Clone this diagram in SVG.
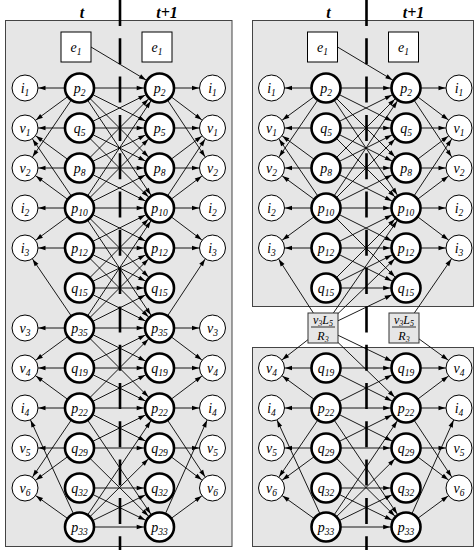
<svg xmlns="http://www.w3.org/2000/svg" width="475" height="550" viewBox="0 0 475 550">
<defs>
<style>
.pan{fill:#e6e6e6;stroke:#444;stroke-width:1}
.e line{stroke:#000;stroke-width:0.9;fill:none}
.s{marker-end:url(#ms)}
.b{marker-end:url(#mb)}
.dash{stroke:#000;stroke-width:2.6;stroke-dasharray:26 12.3}
.m{fill:#fff;stroke:#000;stroke-width:1}
.p{fill:#fff;stroke:#000;stroke-width:2.6}
.bx{fill:#fff;stroke:#000;stroke-width:1}
.fx{fill:#e6e6e6;stroke:#333;stroke-width:1}
text{font-family:"Liberation Serif",serif;font-style:italic;font-size:14px;text-anchor:middle;fill:#000}
.u{font-size:9.5px}
.h{font-weight:bold;font-size:16px}
.f{font-size:12px}
.fu{font-size:8px}
</style>
<marker id="ms" markerUnits="userSpaceOnUse" markerWidth="8" markerHeight="6" viewBox="0 0 8 6" refX="20.5" refY="3" orient="auto" overflow="visible"><path d="M0,0.7 L7,3 L0,5.3 z" fill="#000"/></marker>
<marker id="mb" markerUnits="userSpaceOnUse" markerWidth="8" markerHeight="6" viewBox="0 0 8 6" refX="22.8" refY="3" orient="auto" overflow="visible"><path d="M0,0.7 L7,3 L0,5.3 z" fill="#000"/></marker>
</defs>
<rect width="475" height="550" fill="#fff"/>
<g id="panels">
<rect class="pan" x="5.5" y="20.5" width="226.5" height="526"/>
<rect class="pan" x="252.5" y="20.5" width="221" height="286"/>
<rect class="pan" x="252.5" y="347.5" width="221" height="199"/>
</g>
<g id="connectors" class="e">
<g class="b">
<line x1="91" y1="47" x2="159.5" y2="88"/>
<line x1="337.5" y1="47" x2="406" y2="88"/>
</g>
<g class="s">
<!-- left panel, t -->
<line x1="79.5" y1="88" x2="25" y2="88"/>
<line x1="79.5" y1="88" x2="25" y2="128"/>
<line x1="79.5" y1="88" x2="25" y2="168"/>
<line x1="79.5" y1="128" x2="25" y2="128"/>
<line x1="79.5" y1="168" x2="25" y2="128"/>
<line x1="79.5" y1="168" x2="25" y2="168"/>
<line x1="79.5" y1="208" x2="25" y2="128"/>
<line x1="79.5" y1="208" x2="25" y2="168"/>
<line x1="79.5" y1="208" x2="25" y2="208"/>
<line x1="79.5" y1="208" x2="25" y2="248"/>
<line x1="79.5" y1="248" x2="25" y2="248"/>
<line x1="79.5" y1="328" x2="25" y2="248"/>
<line x1="79.5" y1="328" x2="25" y2="328"/>
<line x1="79.5" y1="328" x2="25" y2="368"/>
<line x1="79.5" y1="368" x2="25" y2="368"/>
<line x1="79.5" y1="408" x2="25" y2="368"/>
<line x1="79.5" y1="408" x2="25" y2="408"/>
<line x1="79.5" y1="408" x2="25" y2="488"/>
<line x1="79.5" y1="527" x2="25" y2="408"/>
<line x1="79.5" y1="448" x2="25" y2="448"/>
<line x1="79.5" y1="448" x2="25" y2="488"/>
<line x1="79.5" y1="527" x2="25" y2="488"/>
<!-- left panel, t+1 -->
<line x1="159.5" y1="88" x2="212.5" y2="88"/>
<line x1="159.5" y1="88" x2="212.5" y2="128"/>
<line x1="159.5" y1="88" x2="212.5" y2="168"/>
<line x1="159.5" y1="128" x2="212.5" y2="128"/>
<line x1="159.5" y1="168" x2="212.5" y2="128"/>
<line x1="159.5" y1="168" x2="212.5" y2="168"/>
<line x1="159.5" y1="208" x2="212.5" y2="128"/>
<line x1="159.5" y1="208" x2="212.5" y2="168"/>
<line x1="159.5" y1="208" x2="212.5" y2="208"/>
<line x1="159.5" y1="208" x2="212.5" y2="248"/>
<line x1="159.5" y1="248" x2="212.5" y2="248"/>
<line x1="159.5" y1="328" x2="212.5" y2="248"/>
<line x1="159.5" y1="328" x2="212.5" y2="328"/>
<line x1="159.5" y1="328" x2="212.5" y2="368"/>
<line x1="159.5" y1="368" x2="212.5" y2="368"/>
<line x1="159.5" y1="408" x2="212.5" y2="368"/>
<line x1="159.5" y1="408" x2="212.5" y2="408"/>
<line x1="159.5" y1="408" x2="212.5" y2="488"/>
<line x1="159.5" y1="527" x2="212.5" y2="408"/>
<line x1="159.5" y1="448" x2="212.5" y2="448"/>
<line x1="159.5" y1="448" x2="212.5" y2="488"/>
<line x1="159.5" y1="527" x2="212.5" y2="488"/>
<!-- right panel, t -->
<line x1="326" y1="88" x2="271.5" y2="88"/>
<line x1="326" y1="88" x2="271.5" y2="128"/>
<line x1="326" y1="88" x2="271.5" y2="168"/>
<line x1="326" y1="128" x2="271.5" y2="128"/>
<line x1="326" y1="168" x2="271.5" y2="128"/>
<line x1="326" y1="168" x2="271.5" y2="168"/>
<line x1="326" y1="208" x2="271.5" y2="128"/>
<line x1="326" y1="208" x2="271.5" y2="168"/>
<line x1="326" y1="208" x2="271.5" y2="208"/>
<line x1="326" y1="208" x2="271.5" y2="248"/>
<line x1="326" y1="248" x2="271.5" y2="248"/>
<line x1="323" y1="328" x2="271.5" y2="248"/>
<line x1="323" y1="328" x2="271.5" y2="368"/>
<line x1="326" y1="368" x2="271.5" y2="368"/>
<line x1="326" y1="408" x2="271.5" y2="368"/>
<line x1="326" y1="408" x2="271.5" y2="408"/>
<line x1="326" y1="408" x2="271.5" y2="488"/>
<line x1="326" y1="527" x2="271.5" y2="408"/>
<line x1="326" y1="448" x2="271.5" y2="448"/>
<line x1="326" y1="448" x2="271.5" y2="488"/>
<line x1="326" y1="527" x2="271.5" y2="488"/>
<!-- right panel, t+1 -->
<line x1="406" y1="88" x2="459" y2="88"/>
<line x1="406" y1="88" x2="459" y2="128"/>
<line x1="406" y1="88" x2="459" y2="168"/>
<line x1="406" y1="128" x2="459" y2="128"/>
<line x1="406" y1="168" x2="459" y2="128"/>
<line x1="406" y1="168" x2="459" y2="168"/>
<line x1="406" y1="208" x2="459" y2="128"/>
<line x1="406" y1="208" x2="459" y2="168"/>
<line x1="406" y1="208" x2="459" y2="208"/>
<line x1="406" y1="208" x2="459" y2="248"/>
<line x1="406" y1="248" x2="459" y2="248"/>
<line x1="404" y1="328" x2="459" y2="248"/>
<line x1="404" y1="328" x2="459" y2="368"/>
<line x1="406" y1="368" x2="459" y2="368"/>
<line x1="406" y1="408" x2="459" y2="368"/>
<line x1="406" y1="408" x2="459" y2="408"/>
<line x1="406" y1="408" x2="459" y2="488"/>
<line x1="406" y1="527" x2="459" y2="408"/>
<line x1="406" y1="448" x2="459" y2="448"/>
<line x1="406" y1="448" x2="459" y2="488"/>
<line x1="406" y1="527" x2="459" y2="488"/>
</g>
<g class="b">
<!-- left panel cross-time -->
<line x1="79.5" y1="88" x2="159.5" y2="88"/>
<line x1="79.5" y1="128" x2="159.5" y2="128"/>
<line x1="79.5" y1="168" x2="159.5" y2="168"/>
<line x1="79.5" y1="208" x2="159.5" y2="208"/>
<line x1="79.5" y1="248" x2="159.5" y2="248"/>
<line x1="79.5" y1="288" x2="159.5" y2="288"/>
<line x1="79.5" y1="328" x2="159.5" y2="328"/>
<line x1="79.5" y1="368" x2="159.5" y2="368"/>
<line x1="79.5" y1="408" x2="159.5" y2="408"/>
<line x1="79.5" y1="448" x2="159.5" y2="448"/>
<line x1="79.5" y1="488" x2="159.5" y2="488"/>
<line x1="79.5" y1="527" x2="159.5" y2="527"/>
<line x1="79.5" y1="88" x2="159.5" y2="128"/>
<line x1="79.5" y1="88" x2="159.5" y2="168"/>
<line x1="79.5" y1="88" x2="159.5" y2="208"/>
<line x1="79.5" y1="128" x2="159.5" y2="88"/>
<line x1="79.5" y1="128" x2="159.5" y2="168"/>
<line x1="79.5" y1="128" x2="159.5" y2="208"/>
<line x1="79.5" y1="168" x2="159.5" y2="88"/>
<line x1="79.5" y1="168" x2="159.5" y2="128"/>
<line x1="79.5" y1="168" x2="159.5" y2="208"/>
<line x1="79.5" y1="208" x2="159.5" y2="88"/>
<line x1="79.5" y1="208" x2="159.5" y2="128"/>
<line x1="79.5" y1="208" x2="159.5" y2="168"/>
<line x1="79.5" y1="208" x2="159.5" y2="248"/>
<line x1="79.5" y1="208" x2="159.5" y2="288"/>
<line x1="79.5" y1="208" x2="159.5" y2="328"/>
<line x1="79.5" y1="248" x2="159.5" y2="208"/>
<line x1="79.5" y1="248" x2="159.5" y2="288"/>
<line x1="79.5" y1="248" x2="159.5" y2="328"/>
<line x1="79.5" y1="288" x2="159.5" y2="208"/>
<line x1="79.5" y1="288" x2="159.5" y2="248"/>
<line x1="79.5" y1="288" x2="159.5" y2="328"/>
<line x1="79.5" y1="328" x2="159.5" y2="208"/>
<line x1="79.5" y1="328" x2="159.5" y2="248"/>
<line x1="79.5" y1="328" x2="159.5" y2="288"/>
<line x1="79.5" y1="328" x2="159.5" y2="368"/>
<line x1="79.5" y1="328" x2="159.5" y2="408"/>
<line x1="79.5" y1="368" x2="159.5" y2="328"/>
<line x1="79.5" y1="368" x2="159.5" y2="408"/>
<line x1="79.5" y1="408" x2="159.5" y2="328"/>
<line x1="79.5" y1="408" x2="159.5" y2="368"/>
<line x1="79.5" y1="408" x2="159.5" y2="448"/>
<line x1="79.5" y1="408" x2="159.5" y2="527"/>
<line x1="79.5" y1="448" x2="159.5" y2="408"/>
<line x1="79.5" y1="448" x2="159.5" y2="527"/>
<line x1="79.5" y1="527" x2="159.5" y2="408"/>
<line x1="79.5" y1="527" x2="159.5" y2="448"/>
<line x1="79.5" y1="488" x2="159.5" y2="527"/>
<line x1="79.5" y1="527" x2="159.5" y2="488"/>
<!-- right panel cross-time -->
<line x1="326" y1="88" x2="406" y2="88"/>
<line x1="326" y1="128" x2="406" y2="128"/>
<line x1="326" y1="168" x2="406" y2="168"/>
<line x1="326" y1="208" x2="406" y2="208"/>
<line x1="326" y1="248" x2="406" y2="248"/>
<line x1="326" y1="288" x2="406" y2="288"/>
<line x1="326" y1="368" x2="406" y2="368"/>
<line x1="326" y1="408" x2="406" y2="408"/>
<line x1="326" y1="448" x2="406" y2="448"/>
<line x1="326" y1="488" x2="406" y2="488"/>
<line x1="326" y1="527" x2="406" y2="527"/>
<line x1="326" y1="88" x2="406" y2="128"/>
<line x1="326" y1="88" x2="406" y2="168"/>
<line x1="326" y1="88" x2="406" y2="208"/>
<line x1="326" y1="128" x2="406" y2="88"/>
<line x1="326" y1="128" x2="406" y2="168"/>
<line x1="326" y1="128" x2="406" y2="208"/>
<line x1="326" y1="168" x2="406" y2="88"/>
<line x1="326" y1="168" x2="406" y2="128"/>
<line x1="326" y1="168" x2="406" y2="208"/>
<line x1="326" y1="208" x2="406" y2="88"/>
<line x1="326" y1="208" x2="406" y2="128"/>
<line x1="326" y1="208" x2="406" y2="168"/>
<line x1="326" y1="208" x2="406" y2="248"/>
<line x1="326" y1="208" x2="406" y2="288"/>
<line x1="326" y1="248" x2="406" y2="208"/>
<line x1="326" y1="248" x2="406" y2="288"/>
<line x1="326" y1="288" x2="406" y2="208"/>
<line x1="326" y1="288" x2="406" y2="248"/>
<line x1="323" y1="328" x2="406" y2="208"/>
<line x1="323" y1="328" x2="406" y2="248"/>
<line x1="323" y1="328" x2="406" y2="288"/>
<line x1="323" y1="328" x2="406" y2="368"/>
<line x1="323" y1="328" x2="406" y2="408"/>
<line x1="326" y1="368" x2="406" y2="408"/>
<line x1="326" y1="408" x2="406" y2="368"/>
<line x1="326" y1="408" x2="406" y2="448"/>
<line x1="326" y1="408" x2="406" y2="527"/>
<line x1="326" y1="448" x2="406" y2="408"/>
<line x1="326" y1="448" x2="406" y2="527"/>
<line x1="326" y1="527" x2="406" y2="408"/>
<line x1="326" y1="527" x2="406" y2="448"/>
<line x1="326" y1="488" x2="406" y2="527"/>
<line x1="326" y1="527" x2="406" y2="488"/>
</g>
</g>
<g id="time-dividers">
<line class="dash" x1="120" y1="0" x2="120" y2="550"/>
<line class="dash" x1="366.5" y1="0" x2="366.5" y2="550"/>
</g>
<g id="headers">
<text class="h" x="82" y="18">t</text>
<text class="h" x="167" y="18">t+1</text>
<text class="h" x="328.5" y="18">t</text>
<text class="h" x="413.5" y="18">t+1</text>
</g>
<!-- LEFT PANEL NODES -->
<g id="L-e1-t"><rect class="bx" x="61" y="32" width="30" height="30"/><text x="76" y="51.5">e<tspan class="u" dy="3">1</tspan></text></g>
<g id="L-e1-t1"><rect class="bx" x="142" y="32" width="30" height="30"/><text x="157" y="51.5">e<tspan class="u" dy="3">1</tspan></text></g>
<g id="L-p2-t"><circle class="p" cx="79.5" cy="88" r="14.5"/><text x="79.5" y="92.5">p<tspan class="u" dy="3">2</tspan></text></g>
<g id="L-q5-t"><circle class="p" cx="79.5" cy="128" r="14.5"/><text x="79.5" y="132.5">q<tspan class="u" dy="3">5</tspan></text></g>
<g id="L-p8-t"><circle class="p" cx="79.5" cy="168" r="14.5"/><text x="79.5" y="172.5">p<tspan class="u" dy="3">8</tspan></text></g>
<g id="L-p10-t"><circle class="p" cx="79.5" cy="208" r="14.5"/><text x="79.5" y="212.5">p<tspan class="u" dy="3">10</tspan></text></g>
<g id="L-p12-t"><circle class="p" cx="79.5" cy="248" r="14.5"/><text x="79.5" y="252.5">p<tspan class="u" dy="3">12</tspan></text></g>
<g id="L-q15-t"><circle class="p" cx="79.5" cy="288" r="14.5"/><text x="79.5" y="292.5">q<tspan class="u" dy="3">15</tspan></text></g>
<g id="L-p35-t"><circle class="p" cx="79.5" cy="328" r="14.5"/><text x="79.5" y="332.5">p<tspan class="u" dy="3">35</tspan></text></g>
<g id="L-q19-t"><circle class="p" cx="79.5" cy="368" r="14.5"/><text x="79.5" y="372.5">q<tspan class="u" dy="3">19</tspan></text></g>
<g id="L-p22-t"><circle class="p" cx="79.5" cy="408" r="14.5"/><text x="79.5" y="412.5">p<tspan class="u" dy="3">22</tspan></text></g>
<g id="L-q29-t"><circle class="p" cx="79.5" cy="448" r="14.5"/><text x="79.5" y="452.5">q<tspan class="u" dy="3">29</tspan></text></g>
<g id="L-q32-t"><circle class="p" cx="79.5" cy="488" r="14.5"/><text x="79.5" y="492.5">q<tspan class="u" dy="3">32</tspan></text></g>
<g id="L-p33-t"><circle class="p" cx="79.5" cy="527" r="14.5"/><text x="79.5" y="531.5">p<tspan class="u" dy="3">33</tspan></text></g>
<g id="L-p2-t1"><circle class="p" cx="159.5" cy="88" r="14.5"/><text x="159.5" y="92.5">p<tspan class="u" dy="3">2</tspan></text></g>
<g id="L-p5-t1"><circle class="p" cx="159.5" cy="128" r="14.5"/><text x="159.5" y="132.5">p<tspan class="u" dy="3">5</tspan></text></g>
<g id="L-p8-t1"><circle class="p" cx="159.5" cy="168" r="14.5"/><text x="159.5" y="172.5">p<tspan class="u" dy="3">8</tspan></text></g>
<g id="L-p10-t1"><circle class="p" cx="159.5" cy="208" r="14.5"/><text x="159.5" y="212.5">p<tspan class="u" dy="3">10</tspan></text></g>
<g id="L-p12-t1"><circle class="p" cx="159.5" cy="248" r="14.5"/><text x="159.5" y="252.5">p<tspan class="u" dy="3">12</tspan></text></g>
<g id="L-q15-t1"><circle class="p" cx="159.5" cy="288" r="14.5"/><text x="159.5" y="292.5">q<tspan class="u" dy="3">15</tspan></text></g>
<g id="L-p35-t1"><circle class="p" cx="159.5" cy="328" r="14.5"/><text x="159.5" y="332.5">p<tspan class="u" dy="3">35</tspan></text></g>
<g id="L-q19-t1"><circle class="p" cx="159.5" cy="368" r="14.5"/><text x="159.5" y="372.5">q<tspan class="u" dy="3">19</tspan></text></g>
<g id="L-p22-t1"><circle class="p" cx="159.5" cy="408" r="14.5"/><text x="159.5" y="412.5">p<tspan class="u" dy="3">22</tspan></text></g>
<g id="L-q29-t1"><circle class="p" cx="159.5" cy="448" r="14.5"/><text x="159.5" y="452.5">q<tspan class="u" dy="3">29</tspan></text></g>
<g id="L-q32-t1"><circle class="p" cx="159.5" cy="488" r="14.5"/><text x="159.5" y="492.5">q<tspan class="u" dy="3">32</tspan></text></g>
<g id="L-p33-t1"><circle class="p" cx="159.5" cy="527" r="14.5"/><text x="159.5" y="531.5">p<tspan class="u" dy="3">33</tspan></text></g>
<g id="L-i1-t"><circle class="m" cx="25" cy="88" r="13"/><text x="25" y="92.5">i<tspan class="u" dy="3">1</tspan></text></g>
<g id="L-v1-t"><circle class="m" cx="25" cy="128" r="13"/><text x="25" y="132.5">v<tspan class="u" dy="3">1</tspan></text></g>
<g id="L-v2-t"><circle class="m" cx="25" cy="168" r="13"/><text x="25" y="172.5">v<tspan class="u" dy="3">2</tspan></text></g>
<g id="L-i2-t"><circle class="m" cx="25" cy="208" r="13"/><text x="25" y="212.5">i<tspan class="u" dy="3">2</tspan></text></g>
<g id="L-i3-t"><circle class="m" cx="25" cy="248" r="13"/><text x="25" y="252.5">i<tspan class="u" dy="3">3</tspan></text></g>
<g id="L-v3-t"><circle class="m" cx="25" cy="328" r="13"/><text x="25" y="332.5">v<tspan class="u" dy="3">3</tspan></text></g>
<g id="L-v4-t"><circle class="m" cx="25" cy="368" r="13"/><text x="25" y="372.5">v<tspan class="u" dy="3">4</tspan></text></g>
<g id="L-i4-t"><circle class="m" cx="25" cy="408" r="13"/><text x="25" y="412.5">i<tspan class="u" dy="3">4</tspan></text></g>
<g id="L-v5-t"><circle class="m" cx="25" cy="448" r="13"/><text x="25" y="452.5">v<tspan class="u" dy="3">5</tspan></text></g>
<g id="L-v6-t"><circle class="m" cx="25" cy="488" r="13"/><text x="25" y="492.5">v<tspan class="u" dy="3">6</tspan></text></g>
<g id="L-i1-t1"><circle class="m" cx="212.5" cy="88" r="13"/><text x="212.5" y="92.5">i<tspan class="u" dy="3">1</tspan></text></g>
<g id="L-v1-t1"><circle class="m" cx="212.5" cy="128" r="13"/><text x="212.5" y="132.5">v<tspan class="u" dy="3">1</tspan></text></g>
<g id="L-v2-t1"><circle class="m" cx="212.5" cy="168" r="13"/><text x="212.5" y="172.5">v<tspan class="u" dy="3">2</tspan></text></g>
<g id="L-i2-t1"><circle class="m" cx="212.5" cy="208" r="13"/><text x="212.5" y="212.5">i<tspan class="u" dy="3">2</tspan></text></g>
<g id="L-i3-t1"><circle class="m" cx="212.5" cy="248" r="13"/><text x="212.5" y="252.5">i<tspan class="u" dy="3">3</tspan></text></g>
<g id="L-v3-t1"><circle class="m" cx="212.5" cy="328" r="13"/><text x="212.5" y="332.5">v<tspan class="u" dy="3">3</tspan></text></g>
<g id="L-v4-t1"><circle class="m" cx="212.5" cy="368" r="13"/><text x="212.5" y="372.5">v<tspan class="u" dy="3">4</tspan></text></g>
<g id="L-i4-t1"><circle class="m" cx="212.5" cy="408" r="13"/><text x="212.5" y="412.5">i<tspan class="u" dy="3">4</tspan></text></g>
<g id="L-v5-t1"><circle class="m" cx="212.5" cy="448" r="13"/><text x="212.5" y="452.5">v<tspan class="u" dy="3">5</tspan></text></g>
<g id="L-v6-t1"><circle class="m" cx="212.5" cy="488" r="13"/><text x="212.5" y="492.5">v<tspan class="u" dy="3">6</tspan></text></g>
<!-- RIGHT PANEL NODES -->
<g id="R-e1-t"><rect class="bx" x="307.5" y="32" width="30" height="30"/><text x="322.5" y="51.5">e<tspan class="u" dy="3">1</tspan></text></g>
<g id="R-e1-t1"><rect class="bx" x="388.5" y="32" width="30" height="30"/><text x="403.5" y="51.5">e<tspan class="u" dy="3">1</tspan></text></g>
<g id="R-box-t"><rect class="fx" x="308" y="313" width="30" height="30"/><text class="f" x="323" y="324">v<tspan class="fu" dy="2">3</tspan><tspan dy="-2">L</tspan><tspan class="fu" dy="2">5</tspan></text><line x1="311" y1="327" x2="335" y2="327" stroke="#000" stroke-width="0.8"/><text class="f" x="323" y="339.5">R<tspan class="fu" dy="2">3</tspan></text></g>
<g id="R-box-t1"><rect class="fx" x="389" y="313" width="30" height="30"/><text class="f" x="404" y="324">v<tspan class="fu" dy="2">3</tspan><tspan dy="-2">L</tspan><tspan class="fu" dy="2">5</tspan></text><line x1="392" y1="327" x2="416" y2="327" stroke="#000" stroke-width="0.8"/><text class="f" x="404" y="339.5">R<tspan class="fu" dy="2">3</tspan></text></g>
<g id="R-p2-t"><circle class="p" cx="326" cy="88" r="14.5"/><text x="326" y="92.5">p<tspan class="u" dy="3">2</tspan></text></g>
<g id="R-q5-t"><circle class="p" cx="326" cy="128" r="14.5"/><text x="326" y="132.5">q<tspan class="u" dy="3">5</tspan></text></g>
<g id="R-p8-t"><circle class="p" cx="326" cy="168" r="14.5"/><text x="326" y="172.5">p<tspan class="u" dy="3">8</tspan></text></g>
<g id="R-p10-t"><circle class="p" cx="326" cy="208" r="14.5"/><text x="326" y="212.5">p<tspan class="u" dy="3">10</tspan></text></g>
<g id="R-p12-t"><circle class="p" cx="326" cy="248" r="14.5"/><text x="326" y="252.5">p<tspan class="u" dy="3">12</tspan></text></g>
<g id="R-q15-t"><circle class="p" cx="326" cy="288" r="14.5"/><text x="326" y="292.5">q<tspan class="u" dy="3">15</tspan></text></g>
<g id="R-q19-t"><circle class="p" cx="326" cy="368" r="14.5"/><text x="326" y="372.5">q<tspan class="u" dy="3">19</tspan></text></g>
<g id="R-p22-t"><circle class="p" cx="326" cy="408" r="14.5"/><text x="326" y="412.5">p<tspan class="u" dy="3">22</tspan></text></g>
<g id="R-q29-t"><circle class="p" cx="326" cy="448" r="14.5"/><text x="326" y="452.5">q<tspan class="u" dy="3">29</tspan></text></g>
<g id="R-q32-t"><circle class="p" cx="326" cy="488" r="14.5"/><text x="326" y="492.5">q<tspan class="u" dy="3">32</tspan></text></g>
<g id="R-p33-t"><circle class="p" cx="326" cy="527" r="14.5"/><text x="326" y="531.5">p<tspan class="u" dy="3">33</tspan></text></g>
<g id="R-p2-t1"><circle class="p" cx="406" cy="88" r="14.5"/><text x="406" y="92.5">p<tspan class="u" dy="3">2</tspan></text></g>
<g id="R-q5-t1"><circle class="p" cx="406" cy="128" r="14.5"/><text x="406" y="132.5">q<tspan class="u" dy="3">5</tspan></text></g>
<g id="R-p8-t1"><circle class="p" cx="406" cy="168" r="14.5"/><text x="406" y="172.5">p<tspan class="u" dy="3">8</tspan></text></g>
<g id="R-p10-t1"><circle class="p" cx="406" cy="208" r="14.5"/><text x="406" y="212.5">p<tspan class="u" dy="3">10</tspan></text></g>
<g id="R-p12-t1"><circle class="p" cx="406" cy="248" r="14.5"/><text x="406" y="252.5">p<tspan class="u" dy="3">12</tspan></text></g>
<g id="R-q15-t1"><circle class="p" cx="406" cy="288" r="14.5"/><text x="406" y="292.5">q<tspan class="u" dy="3">15</tspan></text></g>
<g id="R-q19-t1"><circle class="p" cx="406" cy="368" r="14.5"/><text x="406" y="372.5">q<tspan class="u" dy="3">19</tspan></text></g>
<g id="R-p22-t1"><circle class="p" cx="406" cy="408" r="14.5"/><text x="406" y="412.5">p<tspan class="u" dy="3">22</tspan></text></g>
<g id="R-q29-t1"><circle class="p" cx="406" cy="448" r="14.5"/><text x="406" y="452.5">q<tspan class="u" dy="3">29</tspan></text></g>
<g id="R-q32-t1"><circle class="p" cx="406" cy="488" r="14.5"/><text x="406" y="492.5">q<tspan class="u" dy="3">32</tspan></text></g>
<g id="R-p33-t1"><circle class="p" cx="406" cy="527" r="14.5"/><text x="406" y="531.5">p<tspan class="u" dy="3">33</tspan></text></g>
<g id="R-i1-t"><circle class="m" cx="271.5" cy="88" r="13"/><text x="271.5" y="92.5">i<tspan class="u" dy="3">1</tspan></text></g>
<g id="R-v1-t"><circle class="m" cx="271.5" cy="128" r="13"/><text x="271.5" y="132.5">v<tspan class="u" dy="3">1</tspan></text></g>
<g id="R-v2-t"><circle class="m" cx="271.5" cy="168" r="13"/><text x="271.5" y="172.5">v<tspan class="u" dy="3">2</tspan></text></g>
<g id="R-i2-t"><circle class="m" cx="271.5" cy="208" r="13"/><text x="271.5" y="212.5">i<tspan class="u" dy="3">2</tspan></text></g>
<g id="R-i3-t"><circle class="m" cx="271.5" cy="248" r="13"/><text x="271.5" y="252.5">i<tspan class="u" dy="3">3</tspan></text></g>
<g id="R-v4-t"><circle class="m" cx="271.5" cy="368" r="13"/><text x="271.5" y="372.5">v<tspan class="u" dy="3">4</tspan></text></g>
<g id="R-i4-t"><circle class="m" cx="271.5" cy="408" r="13"/><text x="271.5" y="412.5">i<tspan class="u" dy="3">4</tspan></text></g>
<g id="R-v5-t"><circle class="m" cx="271.5" cy="448" r="13"/><text x="271.5" y="452.5">v<tspan class="u" dy="3">5</tspan></text></g>
<g id="R-v6-t"><circle class="m" cx="271.5" cy="488" r="13"/><text x="271.5" y="492.5">v<tspan class="u" dy="3">6</tspan></text></g>
<g id="R-i1-t1"><circle class="m" cx="459" cy="88" r="13"/><text x="459" y="92.5">i<tspan class="u" dy="3">1</tspan></text></g>
<g id="R-v1-t1"><circle class="m" cx="459" cy="128" r="13"/><text x="459" y="132.5">v<tspan class="u" dy="3">1</tspan></text></g>
<g id="R-v2-t1"><circle class="m" cx="459" cy="168" r="13"/><text x="459" y="172.5">v<tspan class="u" dy="3">2</tspan></text></g>
<g id="R-i2-t1"><circle class="m" cx="459" cy="208" r="13"/><text x="459" y="212.5">i<tspan class="u" dy="3">2</tspan></text></g>
<g id="R-i3-t1"><circle class="m" cx="459" cy="248" r="13"/><text x="459" y="252.5">i<tspan class="u" dy="3">3</tspan></text></g>
<g id="R-v4-t1"><circle class="m" cx="459" cy="368" r="13"/><text x="459" y="372.5">v<tspan class="u" dy="3">4</tspan></text></g>
<g id="R-i4-t1"><circle class="m" cx="459" cy="408" r="13"/><text x="459" y="412.5">i<tspan class="u" dy="3">4</tspan></text></g>
<g id="R-v5-t1"><circle class="m" cx="459" cy="448" r="13"/><text x="459" y="452.5">v<tspan class="u" dy="3">5</tspan></text></g>
<g id="R-v6-t1"><circle class="m" cx="459" cy="488" r="13"/><text x="459" y="492.5">v<tspan class="u" dy="3">6</tspan></text></g>
</svg>
